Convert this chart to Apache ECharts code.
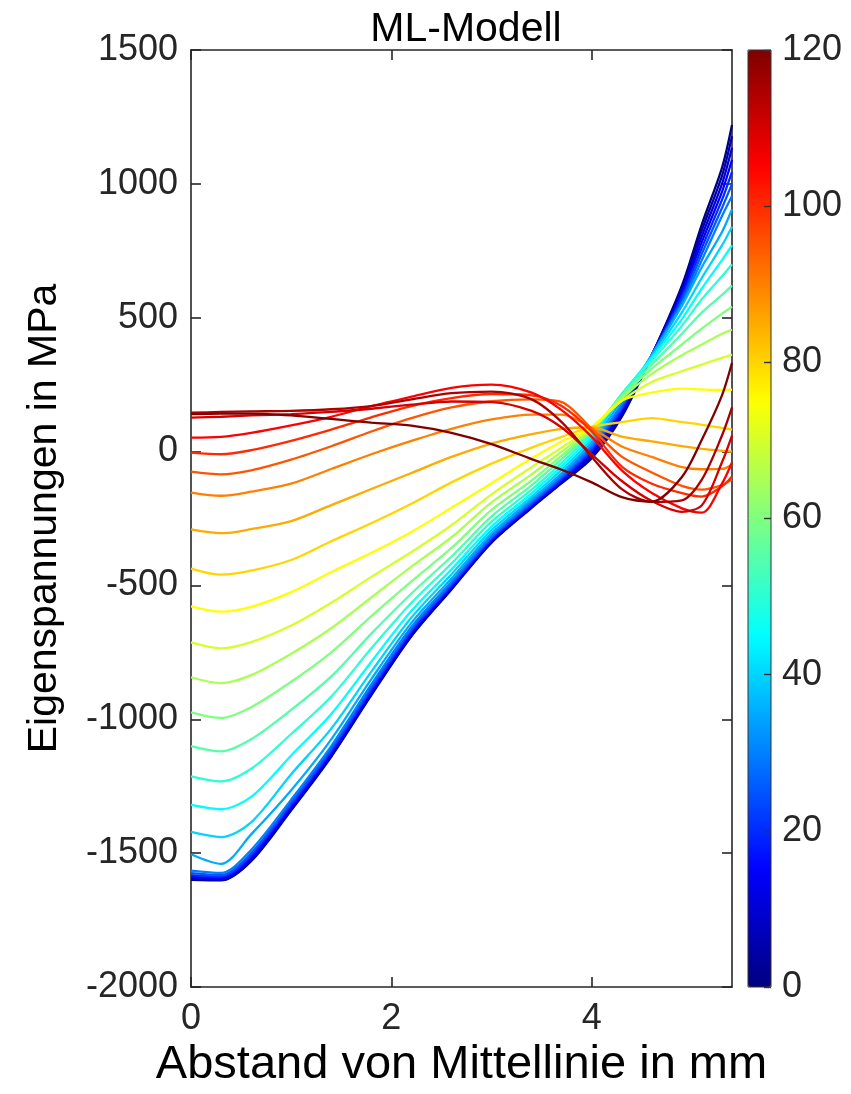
<!DOCTYPE html>
<html><head><meta charset="utf-8">
<script src="https://cdn.jsdelivr.net/npm/echarts@6/dist/echarts.min.js"></script>
<style>html,body{margin:0;padding:0;background:#fff}#c{width:851px;height:1094px}</style>
</head><body><div id="c"></div>
<script>
// x positions (mm)
const xPos = [0, 0.3, 0.6, 1.0, 1.4, 1.8, 2.2, 2.6, 3.0, 3.4, 3.7, 4.0, 4.3, 4.6, 4.9, 5.1, 5.3, 5.4];
// colour parameter of each curve
const levels = [0, 5, 10, 15, 20, 25, 30, 35, 40, 45, 50, 55, 60, 65, 70, 75, 80, 85, 90, 95, 100, 105, 110, 115, 120];
// residual stress in MPa for each curve
const L0   = [-1600, -1602, -1530, -1340, -1140, -910, -690, -515, -340, -210, -118, -25, 130, 360, 620, 850, 1060, 1220];
const L5   = [-1597, -1600, -1526, -1336, -1136, -906, -686, -512, -337, -207, -115, -18, 138, 360, 610, 828, 1030, 1178];
const L10  = [-1593, -1597, -1521, -1331, -1131, -901, -681, -508, -334, -204, -111, -11, 146, 361, 600, 806, 1000, 1135];
const L15  = [-1588, -1593, -1515, -1325, -1125, -895, -676, -504, -330, -200, -107, -3, 153, 361, 590, 784, 970, 1090];
const L20  = [-1582, -1588, -1508, -1318, -1118, -888, -670, -499, -326, -196, -102, 5, 160, 361, 578, 762, 940, 1045];
const L25  = [-1575, -1582, -1500, -1310, -1110, -880, -663, -493, -321, -191, -96, 14, 168, 361, 566, 740, 910, 1000];
const L30  = [-1565, -1574, -1488, -1300, -1100, -870, -655, -486, -315, -185, -89, 24, 176, 361, 554, 716, 880, 955];
const L35  = [-1504, -1540, -1430, -1265, -1075, -850, -640, -474, -306, -178, -80, 35, 190, 360, 545, 690, 820, 905];
const L40  = [-1421, -1440, -1385, -1205, -1035, -822, -620, -458, -294, -168, -68, 47, 205, 355, 520, 650, 770, 840];
const L45  = [-1320, -1336, -1290, -1135, -980, -785, -595, -440, -280, -156, -55, 58, 215, 350, 495, 610, 715, 770];
const L50  = [-1213, -1232, -1185, -1055, -915, -735, -565, -418, -262, -142, -42, 68, 215, 340, 470, 570, 655, 700];
const L55  = [-1100, -1120, -1075, -965, -840, -680, -530, -392, -242, -126, -28, 75, 210, 325, 440, 520, 585, 620];
const L60  = [-974, -995, -955, -860, -750, -615, -485, -360, -218, -108, -15, 80, 205, 310, 400, 460, 515, 541];
const L65  = [-843, -865, -835, -755, -660, -545, -430, -320, -190, -85, 0, 85, 200, 290, 360, 400, 440, 455];
const L70  = [-713, -735, -712, -650, -565, -468, -375, -275, -160, -58, 15, 88, 190, 260, 300, 325, 350, 362];
const L75  = [-578, -598, -580, -525, -450, -378, -300, -210, -118, -25, 38, 92, 190, 220, 235, 232, 230, 231];
const L80  = [-437, -460, -445, -405, -335, -268, -195, -115, -45, 15, 55, 92, 110, 125, 110, 100, 88, 82];
const L85  = [-291, -305, -290, -260, -200, -140, -80, -20, 30, 65, 85, 90, 56, 38, 20, 10, 3, 0];
const L90  = [-153, -165, -150, -120, -65, -10, 40, 85, 120, 138, 138, 88, 19, -20, -58, -66, -65, -48];
const L95  = [-75, -85, -70, -30, 20, 75, 125, 165, 188, 195, 185, 85, -19, -78, -128, -142, -125, -104];
const L100 = [-4, -10, 5, 40, 82, 128, 170, 200, 215, 210, 170, 75, -56, -120, -155, -168, -130, -93];
const L105 = [52, 55, 70, 98, 130, 170, 205, 238, 250, 220, 155, 55, -70, -155, -212, -228, -120, -41];
const L110 = [127, 130, 135, 140, 148, 160, 175, 187, 185, 152, 90, -10, -110, -185, -225, -200, -40, 60];
const L115 = [145, 148, 150, 152, 158, 170, 195, 218, 224, 195, 110, -20, -140, -188, -182, -104, 60, 165];
const L120 = [140, 142, 142, 135, 122, 108, 97, 70, 28, -28, -68, -115, -170, -187, -95, 45, 210, 332];
const curves = [L0, L5, L10, L15, L20, L25, L30, L35, L40, L45, L50, L55, L60, L65, L70, L75, L80, L85, L90, L95, L100, L105, L110, L115, L120];
// tick values
const xTicks = [0, 2, 4];
const yTicks = [-2000, -1500, -1000, -500, 0, 500, 1000, 1500];
const cbTicks = [0, 20, 40, 60, 80, 100, 120];

const FONT = '"Liberation Sans", Arial, Helvetica, sans-serif';
const AX = '#262626';
function cl(v){ return Math.max(0, Math.min(1, v)); }
function jet(t){
  const r = cl(1.5 - Math.abs(4*t - 3)), g = cl(1.5 - Math.abs(4*t - 2)), b = cl(1.5 - Math.abs(4*t - 1));
  return 'rgb(' + Math.round(r*255) + ',' + Math.round(g*255) + ',' + Math.round(b*255) + ')';
}
const jetStops = [0, 1, 2, 3, 4, 5, 6, 7, 8].map(k => jet(k/8));

const series = curves.map((c, i) => ({
  type: 'line', xAxisIndex: 0, yAxisIndex: 0,
  data: xPos.map((x, j) => [x, c[j]]),
  showSymbol: false, smooth: 0.3, silent: true,
  lineStyle: { width: 2.3, color: jet(levels[i] / 120) },
  itemStyle: { color: jet(levels[i] / 120) },
  z: 2 + i
}));
// dummy series carrying the colour bar
series.push({ type: 'scatter', xAxisIndex: 2, yAxisIndex: 2, data: [], silent: true });

const axisLineStyle = { color: AX, width: 1.6 };
const tickStyle = { color: AX, width: 1.6 };
const plain = v => String(v);

const option = {
  animation: false,
  backgroundColor: '#fff',
  title: {
    text: 'ML-Modell', left: 461, top: 4, textAlign: 'center',
    textStyle: { fontFamily: FONT, fontSize: 41, fontWeight: 'normal', color: '#000' }
  },
  grid: [
    { left: 191, top: 50, width: 541, height: 937, containLabel: false },
    { left: 748, top: 50, width: 23, height: 937, show: true, borderColor: '#333', borderWidth: 1, backgroundColor: 'transparent', z: 10 }
  ],
  xAxis: [
    { gridIndex: 0, type: 'value', min: 0, max: 5.4, position: 'bottom',
      axisLine: { onZero: false, lineStyle: axisLineStyle },
      axisTick: { length: -10, customValues: xTicks, lineStyle: tickStyle },
      axisLabel: { customValues: xTicks, fontSize: 36, color: AX, margin: 14, fontFamily: FONT, formatter: plain },
      splitLine: { show: false },
      name: 'Abstand von Mittellinie in mm', nameLocation: 'middle', nameGap: 50,
      nameTextStyle: { fontSize: 47, color: '#000', fontFamily: FONT } },
    { gridIndex: 0, type: 'value', min: 0, max: 5.4, position: 'top',
      axisLine: { onZero: false, lineStyle: axisLineStyle },
      axisTick: { length: -10, customValues: xTicks, lineStyle: tickStyle },
      axisLabel: { show: false }, splitLine: { show: false } },
    { gridIndex: 1, type: 'value', min: 0, max: 1, show: false }
  ],
  yAxis: [
    { gridIndex: 0, type: 'value', min: -2000, max: 1500, interval: 500, position: 'left',
      axisLine: { show: true, onZero: false, lineStyle: axisLineStyle },
      axisTick: { show: true, length: -10, lineStyle: tickStyle },
      axisLabel: { fontSize: 36, color: AX, margin: 13, fontFamily: FONT, formatter: plain },
      splitLine: { show: false },
      name: 'Eigenspannungen in MPa', nameLocation: 'middle', nameGap: 126, nameRotate: 90,
      nameTextStyle: { fontSize: 41, color: '#000', fontFamily: FONT } },
    { gridIndex: 0, type: 'value', min: -2000, max: 1500, interval: 500, position: 'right',
      axisLine: { show: true, onZero: false, lineStyle: axisLineStyle },
      axisTick: { show: true, length: -10, lineStyle: tickStyle },
      axisLabel: { show: false }, splitLine: { show: false } },
    { gridIndex: 1, type: 'value', min: 0, max: 120, interval: 20, position: 'right', z: 11,
      axisLine: { show: false, onZero: false },
      axisTick: { show: true, length: -7, lineStyle: { color: '#333', width: 1.4 } },
      axisLabel: { fontSize: 36, color: AX, margin: 11, fontFamily: FONT, formatter: plain },
      splitLine: { show: false } }
  ],
  visualMap: {
    type: 'continuous', min: 0, max: 120, seriesIndex: curves.length,
    calculable: false, hoverLink: false, left: 748, top: 50, padding: 0,
    itemWidth: 23, itemHeight: 937, text: null,
    inRange: { color: jetStops }
  },
  series: series
};
const chart = echarts.init(document.getElementById('c'), null, { renderer: 'canvas' });
chart.setOption(option);
</script>
</body></html>
